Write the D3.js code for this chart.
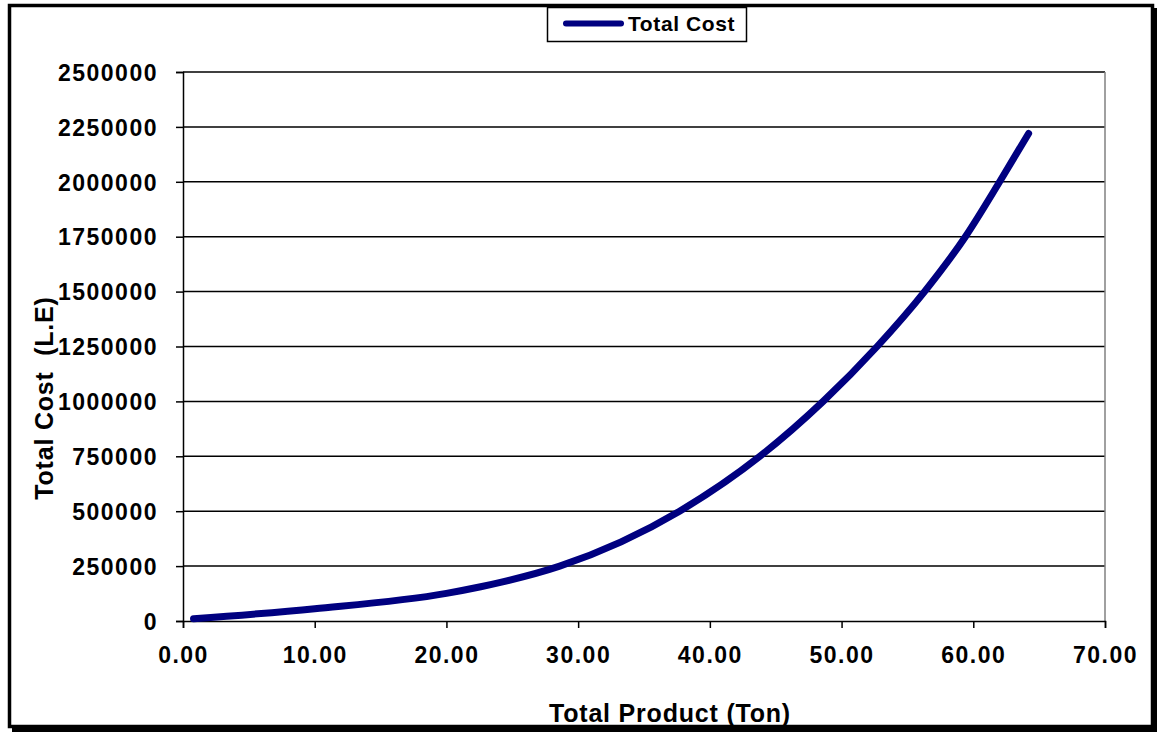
<!DOCTYPE html>
<html><head><meta charset="utf-8">
<script src="https://cdn.jsdelivr.net/npm/d3@7"></script>
<style>body{margin:0;background:#fff}svg{display:block}text{font-family:"Liberation Sans",Arial,sans-serif;font-weight:bold;fill:#000}</style>
</head><body>
<svg id="c" width="1160" height="734"></svg>
<script>
const seriesName = "Total Cost";
const product = [0.8, 10, 20, 22.6, 24.1, 28.6, 37.7, 43.8, 48.6, 52.7, 56.3, 59.4, 62.0, 64.2];
const totalCost = [10000, 56000, 126000, 156000, 176000, 250000, 500000, 750000, 1000000, 1250000, 1500000, 1750000, 2000000, 2220000];
const xTicks = [0, 10, 20, 30, 40, 50, 60, 70];
const yTicks = [0, 250000, 500000, 750000, 1000000, 1250000, 1500000, 1750000, 2000000, 2250000, 2500000];
const xTitle = "Total Product (Ton)";
const yTitle = "Total Cost  (L.E)";

const svg = d3.select("#c");
// frame with shadow
svg.append("rect").attr("x", 12).attr("y", 8).attr("width", 1145).attr("height", 724).attr("fill", "#000");
svg.append("rect").attr("x", 9.5).attr("y", 5.5).attr("width", 1143).attr("height", 721)
  .attr("fill", "#fff").attr("stroke", "#000").attr("stroke-width", 3.5);

const L = 183, R = 1105, T = 72, B = 621;
const x = d3.scaleLinear().domain([0, 70]).range([L, R]);
const y = d3.scaleLinear().domain([0, 2500000]).range([B, T]);

// gridlines
svg.append("g").selectAll("line").data(yTicks.filter(d => d > 0)).join("line")
  .attr("x1", L).attr("x2", R).attr("y1", d => y(d)).attr("y2", d => y(d))
  .attr("stroke", "#000").attr("stroke-width", 1.5);
// right border
svg.append("line").attr("x1", R).attr("x2", R).attr("y1", T).attr("y2", B)
  .attr("stroke", "#808080").attr("stroke-width", 1.5);

// axes
const xAxis = svg.append("g").attr("transform", `translate(0,${B})`)
  .call(d3.axisBottom(x).tickValues(xTicks).tickFormat(d3.format(".2f")).tickSize(7).tickPadding(19));
const yAxis = svg.append("g").attr("transform", `translate(${L},0)`)
  .call(d3.axisLeft(y).tickValues(yTicks).tickFormat(d3.format("d")).tickSize(7).tickPadding(18));
[xAxis, yAxis].forEach(g => {
  g.select(".domain").attr("stroke", "#000").attr("stroke-width", 1.5);
  g.selectAll(".tick line").attr("stroke", "#000").attr("stroke-width", 1.5);
  g.selectAll("text").style("font-size", "23px").style("letter-spacing", "1.5px")
    .style("font-family", "Liberation Sans, Arial, sans-serif").style("font-weight", "bold").attr("fill", "#000");
});
yAxis.selectAll("text").attr("dy", "0.36em");
xAxis.selectAll("text").attr("dy", "0.71em");

// line
const line = d3.line().x((d, i) => x(product[i])).y(d => y(d)).curve(d3.curveMonotoneX);
svg.append("path").datum(totalCost).attr("d", line)
  .attr("fill", "none").attr("stroke", "#000080").attr("stroke-width", 7).attr("stroke-linecap", "round");

// titles
svg.append("text").attr("x", 670).attr("y", 722).attr("text-anchor", "middle")
  .style("font-size", "25px").style("letter-spacing", "0.8px").text(xTitle);
svg.append("text").attr("transform", "translate(53,398) rotate(-90)").attr("text-anchor", "middle")
  .style("font-size", "25px").style("letter-spacing", "0.8px").style("white-space", "pre").text(yTitle);

// legend
const lg = svg.append("g");
lg.append("rect").attr("x", 547.5).attr("y", 7.5).attr("width", 199).attr("height", 34)
  .attr("fill", "#fff").attr("stroke", "#000").attr("stroke-width", 1.5);
lg.append("line").attr("x1", 566).attr("x2", 621).attr("y1", 23.5).attr("y2", 23.5)
  .attr("stroke", "#000080").attr("stroke-width", 6).attr("stroke-linecap", "round");
lg.append("text").attr("x", 628).attr("y", 31).style("font-size", "21px").style("letter-spacing", "0.6px").text(seriesName);
</script>
</body></html>
